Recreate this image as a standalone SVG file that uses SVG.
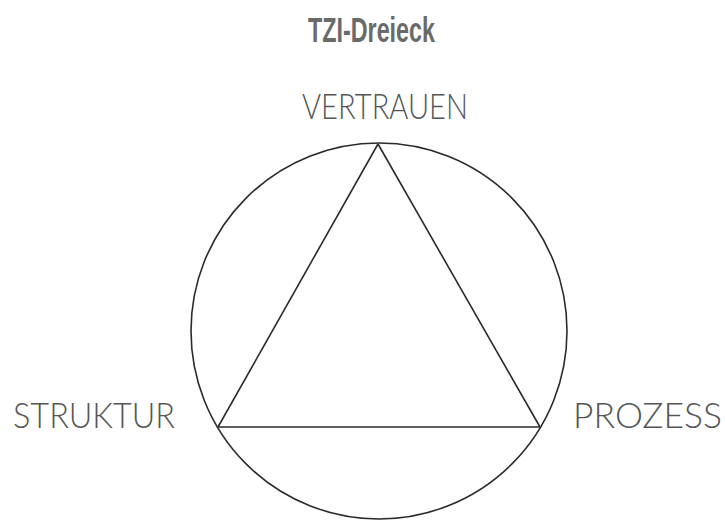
<svg xmlns="http://www.w3.org/2000/svg" width="725" height="520" viewBox="0 0 725 520">
<style>
.title{font-family:"Liberation Sans Narrow","Liberation Sans",sans-serif;font-weight:bold;font-size:35px;fill:#6a6a6a}
.lbl{font-family:Lato,"Open Sans","Liberation Sans",sans-serif;font-weight:300;font-size:35px;fill:#555}
.shape{fill:none;stroke:#2a2a2a;stroke-width:1.6}
</style>
<rect width="725" height="520" fill="#fff"/>
<text class="title" x="308" y="42" textLength="127" lengthAdjust="spacingAndGlyphs">TZI-Dreieck</text>
<g id="circle"><circle class="shape" cx="379" cy="331" r="188"/></g>
<g id="connectors">
<line class="shape" x1="378" y1="144" x2="218" y2="427"/>
<line class="shape" x1="378" y1="144" x2="540" y2="427"/>
<line class="shape" x1="218" y1="427" x2="540" y2="427" stroke="#666"/>
</g>
<g id="vertrauen"><text class="lbl" x="302" y="119" textLength="166" lengthAdjust="spacingAndGlyphs">VERTRAUEN</text></g>
<g id="struktur"><text class="lbl" x="13" y="428" textLength="162" lengthAdjust="spacingAndGlyphs">STRUKTUR</text></g>
<g id="prozess"><text class="lbl" x="573" y="428" textLength="149" lengthAdjust="spacingAndGlyphs">PROZESS</text></g>
</svg>
